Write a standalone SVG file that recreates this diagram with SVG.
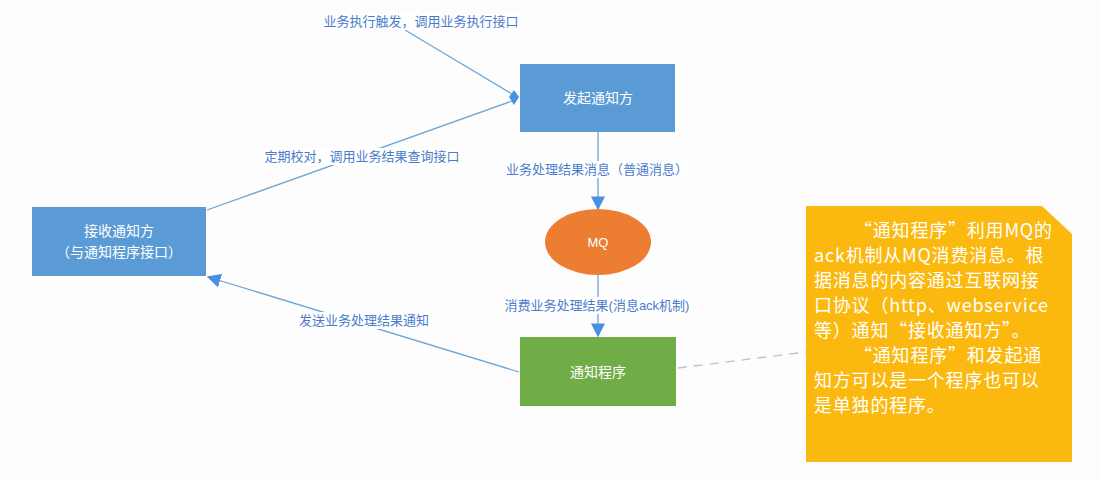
<svg xmlns="http://www.w3.org/2000/svg" width="1100" height="480" viewBox="0 0 1100 480">
<defs>
<style>
text{font-family:"Liberation Sans","Noto Sans CJK SC",sans-serif}
.lbl{font-size:13px;fill:#4a7ccc;text-anchor:middle}
.lblbg{fill:#ffffff}
.ntxt{font-size:14px;fill:#ffffff;text-anchor:middle}
.ln{stroke:#6aa6d8;stroke-width:1.3;fill:none}
.dash{stroke:#b4c2d6;stroke-width:1.3;stroke-dasharray:9 7;fill:none}
.note{font-family:"Noto Sans CJK SC",sans-serif;font-size:18px;fill:#ffffff;letter-spacing:0.8px;font-weight:400}
</style>
<marker id="arrL" viewBox="0 0 10 10" refX="9" refY="5" markerWidth="14" markerHeight="14" markerUnits="userSpaceOnUse" orient="auto">
<path d="M0,0 L10,5 L0,10 z" fill="#4a90e2"/>
</marker>
</defs>
<rect width="1100" height="480" fill="#fdfdfe"/>
<g id="connectors">
<line class="ln" x1="405" y1="30" x2="512" y2="94"/>
<line class="ln" x1="207" y1="210" x2="512" y2="101"/>
<path d="M514,90 L519,97 L514,105 L509,97 z" fill="#4a90e2"/>
<line class="ln" x1="598" y1="132" x2="598" y2="209" marker-end="url(#arrL)"/>
<line class="ln" x1="598" y1="275" x2="598" y2="336" marker-end="url(#arrL)"/>
<line class="ln" x1="519" y1="372" x2="208" y2="277" marker-end="url(#arrL)"/>
<line class="dash" x1="678" y1="368" x2="806" y2="352"/>
<rect class="lblbg" x="322" y="13" width="198" height="17"/>
<text class="lbl" x="421" y="26">业务执行触发，调用业务执行接口</text>
<rect class="lblbg" x="264" y="148" width="196" height="17"/>
<text class="lbl" x="362" y="161">定期校对，调用业务结果查询接口</text>
<rect class="lblbg" x="506" y="161" width="183" height="17"/>
<text class="lbl" x="597" y="174">业务处理结果消息（普通消息）</text>
<rect class="lblbg" x="505" y="297" width="185" height="17"/>
<text class="lbl" x="597" y="310">消费业务处理结果(消息ack机制)</text>
<rect class="lblbg" x="297" y="312" width="134" height="17"/>
<text class="lbl" x="364" y="325">发送业务处理结果通知</text>
</g>
<g id="node-faqi">
<rect x="520" y="64" width="155" height="68" fill="#5b9bd5"/>
<text class="ntxt" x="598" y="103">发起通知方</text>
</g>
<g id="node-mq">
<ellipse cx="598" cy="242" rx="53" ry="33" fill="#ed7d31"/>
<text class="ntxt" x="598" y="247" style="font-size:13px">MQ</text>
</g>
<g id="node-tongzhi">
<rect x="520" y="337" width="156" height="69" fill="#70ad47"/>
<text class="ntxt" x="598" y="377">通知程序</text>
</g>
<g id="node-jieshou">
<rect x="32" y="207" width="174" height="69" fill="#5b9bd5"/>
<text class="ntxt" x="119" y="236">接收通知方</text>
<text class="ntxt" x="119" y="257">（与通知程序接口）</text>
</g>
<g id="node-note">
<path d="M806,206 L1042,206 L1072,234 L1072,462 L806,462 z" fill="#fbb80e"/>
<text class="note" x="854" y="237">“通知程序”利用MQ的</text>
<text class="note" x="814" y="262">ack机制从MQ消费消息。根</text>
<text class="note" x="814" y="287">据消息的内容通过互联网接</text>
<text class="note" x="814" y="312">口协议（http、webservice</text>
<text class="note" x="814" y="337">等）通知“接收通知方”。</text>
<text class="note" x="854" y="362">“通知程序”和发起通</text>
<text class="note" x="814" y="387">知方可以是一个程序也可以</text>
<text class="note" x="814" y="412">是单独的程序。</text>
</g>
</svg>
